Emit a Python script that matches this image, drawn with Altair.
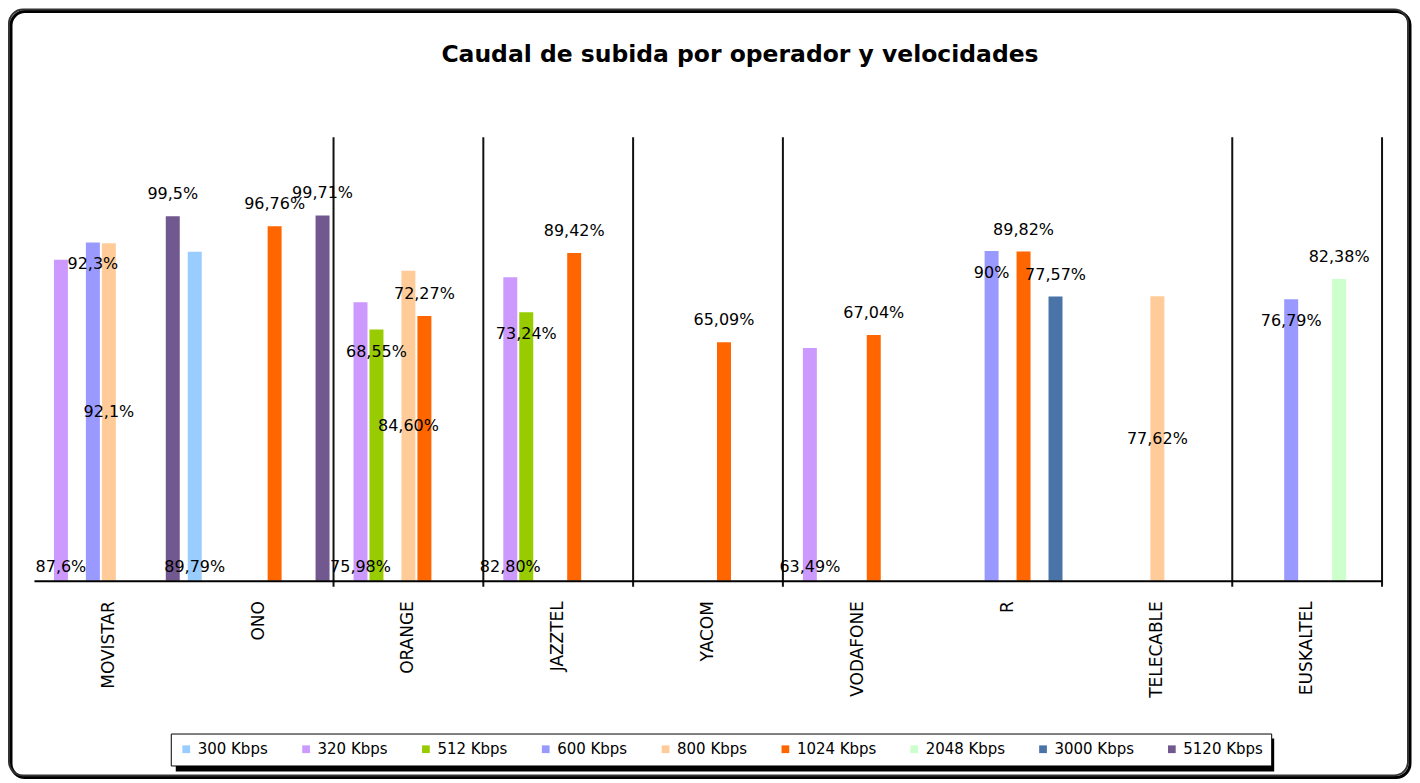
import altair as alt
import pandas as pd

# ---- data ----
TITLE = "Caudal de subida por operador y velocidades"
OPERATORS = ["MOVISTAR", "ONO", "ORANGE", "JAZZTEL", "YACOM", "VODAFONE", "R", "TELECABLE", "EUSKALTEL"]
SPEEDS = ["300 Kbps", "320 Kbps", "512 Kbps", "600 Kbps", "800 Kbps",
          "1024 Kbps", "2048 Kbps", "3000 Kbps", "5120 Kbps"]

# values as printed on the chart (Spanish decimal comma), one list per speed, aligned to OPERATORS
V300  = [None, "89,79", None, None, None, None, None, None, None]
V320  = ["87,6", None, "75,98", "82,80", None, "63,49", None, None, None]
V512  = [None, None, "68,55", "73,24", None, None, None, None, None]
V600  = ["92,3", None, None, None, None, None, "90", None, "76,79"]
V800  = ["92,1", None, "84,60", None, None, None, None, "77,62", None]
V1024 = [None, "96,76", "72,27", "89,42", "65,09", "67,04", "89,82", None, None]
V2048 = [None, None, None, None, None, None, None, None, "82,38"]
V3000 = [None, None, None, None, None, None, "77,57", None, None]
V5120 = ["99,5", "99,71", None, None, None, None, None, None, None]
SERIES = [V300, V320, V512, V600, V800, V1024, V2048, V3000, V5120]

# category boundaries that show a vertical divider line (after these operators)
DIVIDER_AFTER = ["ONO", "ORANGE", "JAZZTEL", "YACOM", "TELECABLE", "EUSKALTEL"]

# ---- styles ----
COLORS = ["#99CCFF", "#CC99FF", "#99CC00", "#9999FF", "#FFCC99",
          "#FF6600", "#CCFFCC", "#4A73A8", "#71588F"]
# Excel-like data-label position per series
LABEL_POS = {"300 Kbps": "base", "320 Kbps": "base", "512 Kbps": "inside",
             "600 Kbps": "inside", "800 Kbps": "center", "1024 Kbps": "outside",
             "2048 Kbps": "outside", "3000 Kbps": "outside", "5120 Kbps": "outside"}

FONT = "DejaVu Sans"
W, H = 1350, 444
YMAX = 121

rows = []
for speed, vals in zip(SPEEDS, SERIES):
    for op, v in zip(OPERATORS, vals):
        if v is None:
            continue
        num = float(v.replace(",", "."))
        pos = LABEL_POS[speed]
        ly = 0 if pos == "base" else (num / 2 if pos == "center" else num)
        rows.append({"operador": op, "velocidad": speed, "valor": num,
                     "etiqueta": v + "%", "pos": pos, "label_y": ly})
df = pd.DataFrame(rows)

x_axis = alt.Axis(title=None, labelAngle=-90, labelFont=FONT, labelFontSize=17,
                  labelColor="#000", labelPadding=20, ticks=False, zindex=1,
                  domainColor="#000", domainWidth=2, labelLimit=300)
x_scale = alt.Scale(domain=OPERATORS, paddingInner=0, paddingOuter=0)
x_enc = alt.X("operador:N", sort=OPERATORS, scale=x_scale, axis=x_axis)
xo_enc = alt.XOffset("velocidad:N", sort=SPEEDS,
                     scale=alt.Scale(domain=SPEEDS, paddingInner=0.125, paddingOuter=0.25))
y_scale = alt.Scale(domain=[0, YMAX])

base = alt.Chart(df)

bars = base.mark_bar().encode(
    x=x_enc, xOffset=xo_enc,
    y=alt.Y("valor:Q", scale=y_scale, axis=None),
    color=alt.Color("velocidad:N", sort=SPEEDS,
                    scale=alt.Scale(domain=SPEEDS, range=COLORS),
                    legend=alt.Legend(title=None)),
)

def labels(pos, dy, baseline):
    return base.transform_filter(alt.datum.pos == pos).mark_text(
        font=FONT, fontSize=16, color="#000", dy=dy, baseline=baseline
    ).encode(
        x=x_enc, xOffset=xo_enc,
        y=alt.Y("label_y:Q", scale=y_scale, axis=None),
        text="etiqueta:N",
    )

lab_base = labels("base", -6, "bottom")
lab_center = labels("center", 0, "middle")
lab_inside = labels("inside", 22, "middle")
lab_outside = labels("outside", -22, "middle")

dividers = alt.Chart(pd.DataFrame({"operador": DIVIDER_AFTER})).mark_rule(
    color="#111", strokeWidth=2
).encode(
    x=alt.X("operador:N", sort=OPERATORS, bandPosition=1, scale=x_scale, axis=x_axis),
    y=alt.value(0), y2=alt.value(H + 6),
)

one = pd.DataFrame({"t": [TITLE]})
frame_shadow = alt.Chart(one).mark_rect(
    fillOpacity=0, stroke="#000", strokeWidth=3, cornerRadius=14
).encode(x=alt.value(-23), x2=alt.value(1378), y=alt.value(-126), y2=alt.value(641))
frame = alt.Chart(one).mark_rect(
    fillOpacity=0, stroke="#333", strokeWidth=2, cornerRadius=14
).encode(x=alt.value(-25), x2=alt.value(1376), y=alt.value(-128), y2=alt.value(639))

title = alt.Chart(one).mark_text(
    font=FONT, fontSize=23.5, fontWeight="bold", color="#000", baseline="middle", align="center"
).encode(x=alt.value(W / 2 + 32), y=alt.value(-82), text="t:N")

LEG_X, LEG_Y, LEG_W, LEG_H = 137, 597, 1100, 33
legend_shadow = alt.Chart(one).mark_rect(fill="#000").encode(
    x=alt.value(LEG_X + 5), x2=alt.value(LEG_X + LEG_W + 5),
    y=alt.value(LEG_Y + 5), y2=alt.value(LEG_Y + LEG_H + 5),
)

chart = alt.layer(
    frame_shadow, frame, title, dividers, bars, lab_base, lab_center, lab_inside, lab_outside,
    legend_shadow
).properties(
    width=W, height=H, padding=0,
).configure_view(stroke=None).configure_legend(
    orient="none", legendX=LEG_X, legendY=LEG_Y, direction="horizontal", columns=9,
    symbolType="square", symbolSize=60, symbolStrokeWidth=0,
    labelFont=FONT, labelFontSize=15, labelColor="#000",
    columnPadding=30, padding=8, strokeColor="#000", fillColor="#fff",
    symbolOffset=0, labelOffset=4,
)

chart.save("out.html", embed_options={"renderer": "svg", "actions": False})
